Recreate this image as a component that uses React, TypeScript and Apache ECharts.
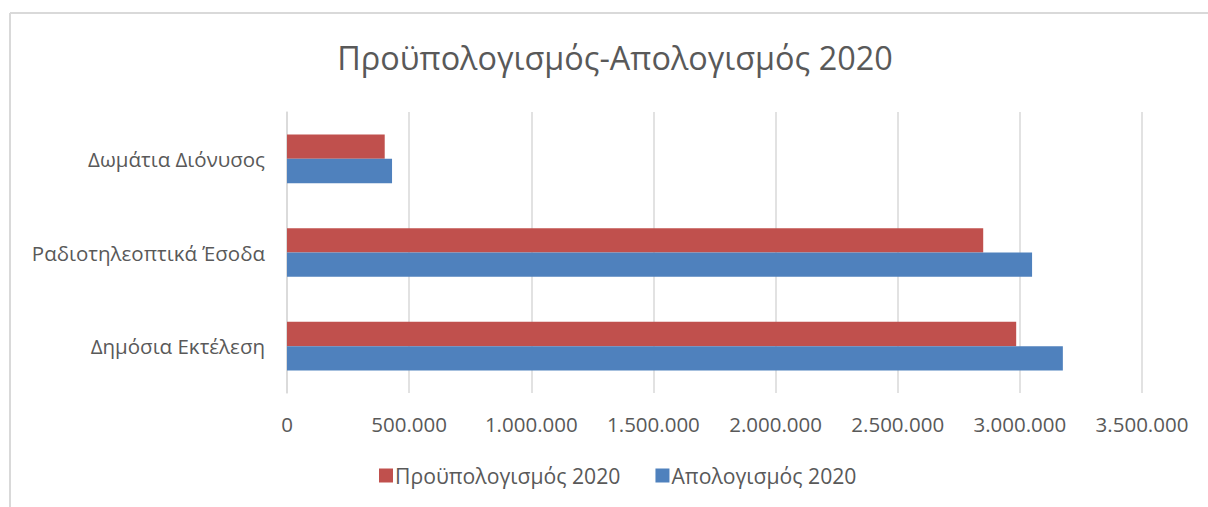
import React, { useEffect, useRef } from "react";
import * as echarts from "echarts";

const categories = ["Δημόσια Εκτέλεση", "Ραδιοτηλεοπτικά Έσοδα", "Δωμάτια Διόνυσος"];
const budget2020 = [2985000, 2850000, 400000];
const actual2020 = [3176000, 3050000, 430000];
const seriesNames = ["Προϋπολογισμός 2020", "Απολογισμός 2020"];
const titleText = "Προϋπολογισμός-Απολογισμός 2020";
const axisMax = 3500000;
const axisStep = 500000;

const FONT = "'Open Sans', 'Noto Sans', sans-serif";
const TXT = "#595959";
const LBL = 20.5;

function fmt(v: number): string {
  return String(Math.round(v)).replace(/\B(?=(\d{3})+(?!\d))/g, ".");
}

export default function App() {
  const ref = useRef<HTMLDivElement>(null);
  useEffect(() => {
    document.body.style.margin = "0";
    const chart = echarts.init(ref.current!, null, { renderer: "svg" });
    chart.setOption({
      animation: false,
      backgroundColor: "#ffffff",
      textStyle: { fontFamily: FONT },
      title: {
        text: titleText,
        left: 610,
        top: 36,
        textAlign: "center",
        textStyle: { fontFamily: FONT, fontSize: 32.4, fontWeight: "normal", color: TXT },
      },
      legend: {
        data: seriesNames,
        left: 374,
        top: 460,
        itemWidth: 14,
        itemHeight: 14,
        itemGap: 35,
        icon: "rect",
        textStyle: { fontFamily: FONT, fontSize: 21.2, color: TXT, padding: [0, 0, 0, -3] },
      },
      grid: { left: 287, right: 66, top: 112, bottom: 114, containLabel: false },
      xAxis: {
        type: "value",
        min: 0,
        max: axisMax,
        interval: axisStep,
        axisLine: { show: false },
        axisTick: { show: false },
        splitLine: { lineStyle: { color: "#D9D9D9", width: 1.5 } },
        axisLabel: {
          formatter: (v: number) => fmt(v),
          fontFamily: FONT,
          fontSize: LBL,
          color: TXT,
          margin: 20,
        },
      },
      yAxis: {
        type: "category",
        data: categories,
        axisLine: { show: true, lineStyle: { color: "#D9D9D9", width: 1.5 } },
        axisTick: { show: false },
        axisLabel: { fontFamily: FONT, fontSize: LBL, color: TXT, margin: 22 },
      },
      series: [
        {
          name: seriesNames[0],
          type: "bar",
          data: budget2020,
          itemStyle: { color: "#C0504D" },
          barGap: "0%",
          barCategoryGap: "48%",
        },
        {
          name: seriesNames[1],
          type: "bar",
          data: actual2020,
          itemStyle: { color: "#4F81BD" },
          barGap: "0%",
          barCategoryGap: "48%",
        },
      ],
      graphic: [
        { type: "line", shape: { x1: 10, y1: 13, x2: 1208, y2: 13 }, style: { stroke: "#D9D9D9", lineWidth: 2 } },
        { type: "line", shape: { x1: 10, y1: 13, x2: 10, y2: 507 }, style: { stroke: "#D9D9D9", lineWidth: 2 } },
      ],
    });
    return () => chart.dispose();
  }, []);
  return <div ref={ref} style={{ width: 1208, height: 507 }} />;
}
